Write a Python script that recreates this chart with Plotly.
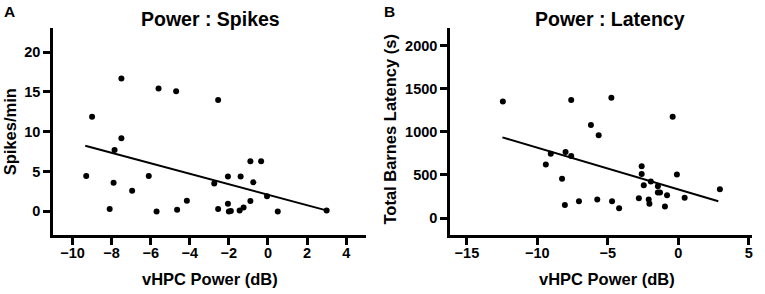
import plotly.graph_objects as go

# ---- Panel A: Power : Spikes ----
spikes_power = [-7.5, -9.0, -7.5, -5.6, -4.7, -2.55, -7.85, -9.3, -7.9, -6.95, -6.1,
                -8.1, -5.7, -4.65, -4.15, -2.75, -2.55, -2.05, -2.05, -2.0, -1.9,
                -1.4, -1.45, -1.25, -0.9, -0.75, -0.9, -0.35, -0.05, 0.5, 3.0]
spikes_rate = [16.7, 11.9, 9.2, 15.45, 15.1, 14.0, 7.7, 4.45, 3.6, 2.6, 4.45,
               0.3, 0.0, 0.2, 1.35, 3.5, 0.3, 4.4, 0.95, 0.0, 0.05,
               4.4, 0.1, 0.5, 6.3, 3.65, 1.3, 6.3, 1.9, 0.0, 0.1]
spikes_fit_x = [-9.35, 2.94]
spikes_fit_y = [8.25, 0.16]

# ---- Panel B: Power : Latency ----
latency_power = [-12.45, -7.6, -4.75, -6.2, -5.65, -0.4, -9.05, -9.4, -8.0, -7.6, -8.25,
                 -8.05, -7.05, -5.75, -4.7, -4.2, -2.8, -2.6, -2.6, -2.45, -2.1,
                 -2.05, -1.95, -1.45, -1.45, -1.3, -0.8, -0.95, -0.1, 0.45, 2.95]
latency_s = [1350, 1370, 1395, 1080, 960, 1175, 745, 620, 765, 720, 455,
             150, 195, 215, 195, 115, 230, 600, 510, 380, 215,
             165, 425, 370, 295, 295, 265, 135, 505, 235, 335]
latency_fit_x = [-12.48, 2.84]
latency_fit_y = [935, 194]

left_xticks = [-10, -8, -6, -4, -2, 0, 2, 4]
left_yticks = [0, 5, 10, 15, 20]
right_xticks = [-15, -10, -5, 0, 5]
right_yticks = [0, 500, 1000, 1500, 2000]

W, H = 765, 294
FONT = "Liberation Sans, Arial, sans-serif"

def px_x(p):
    return p / W

def px_y(p):
    return 1 - p / H

fig = go.Figure()
fig.add_trace(go.Scatter(x=spikes_power, y=spikes_rate, mode="markers",
                         marker=dict(color="black", size=6), xaxis="x", yaxis="y",
                         cliponaxis=False, showlegend=False))
fig.add_trace(go.Scatter(x=spikes_fit_x, y=spikes_fit_y, mode="lines",
                         line=dict(color="black", width=2), xaxis="x", yaxis="y",
                         showlegend=False))
fig.add_trace(go.Scatter(x=latency_power, y=latency_s, mode="markers",
                         marker=dict(color="black", size=6), xaxis="x2", yaxis="y2",
                         cliponaxis=False, showlegend=False))
fig.add_trace(go.Scatter(x=latency_fit_x, y=latency_fit_y, mode="lines",
                         line=dict(color="black", width=2), xaxis="x2", yaxis="y2",
                         showlegend=False))

ydom = [px_y(235.3), px_y(28.3)]
axis_common = dict(showline=True, linecolor="black", linewidth=2.5, ticks="outside",
                   ticklen=7, tickwidth=2.5, tickcolor="black", showgrid=False,
                   zeroline=False,
                   tickfont=dict(family=FONT, size=14.5, color="black", weight="bold"))

fig.update_layout(
    width=W, height=H,
    margin=dict(l=0, r=0, t=0, b=0, autoexpand=False),
    paper_bgcolor="white", plot_bgcolor="white",
    font=dict(family=FONT, color="black"),
    xaxis=dict(domain=[px_x(53), px_x(365.7)], range=[-11, 5], tickvals=left_xticks,
               anchor="y", ticklabelstandoff=-4, **axis_common),
    yaxis=dict(domain=ydom, range=[-3, 23], tickvals=left_yticks, anchor="x",
               **axis_common),
    xaxis2=dict(domain=[px_x(450), px_x(752.3)], range=[-16.2, 5.25], tickvals=right_xticks,
                anchor="y2", ticklabelstandoff=-4, **axis_common),
    yaxis2=dict(domain=ydom, range=[-200, 2200], tickvals=right_yticks, anchor="x2",
                **axis_common),
)

def ann(text, x, y, size, angle=0, xanchor="center"):
    fig.add_annotation(text="<b>%s</b>" % text, x=x, y=y, xref="paper", yref="paper",
                       showarrow=False, textangle=angle, xanchor=xanchor, yanchor="middle",
                       font=dict(family=FONT, size=size, color="black"))

ann("A", px_x(2), px_y(11), 15.5, xanchor="left")
ann("B", px_x(382), px_y(11), 15.5, xanchor="left")
ann("Power : Spikes", px_x(210.5), px_y(19), 19.5)
ann("Power : Latency", px_x(610), px_y(19), 19.5)
ann("vHPC Power (dB)", px_x(210), px_y(279), 16.5)
ann("vHPC Power (dB)", px_x(607), px_y(279), 16.5)
ann("Spikes/min", px_x(9.5), px_y(131.8), 16.5, angle=-90)
ann("Total Barnes Latency (s)", px_x(389.5), px_y(130), 16.5, angle=-90)

fig.write_html("out.html", post_script="document.body.style.margin='0';",
               config={"displayModeBar": False})
